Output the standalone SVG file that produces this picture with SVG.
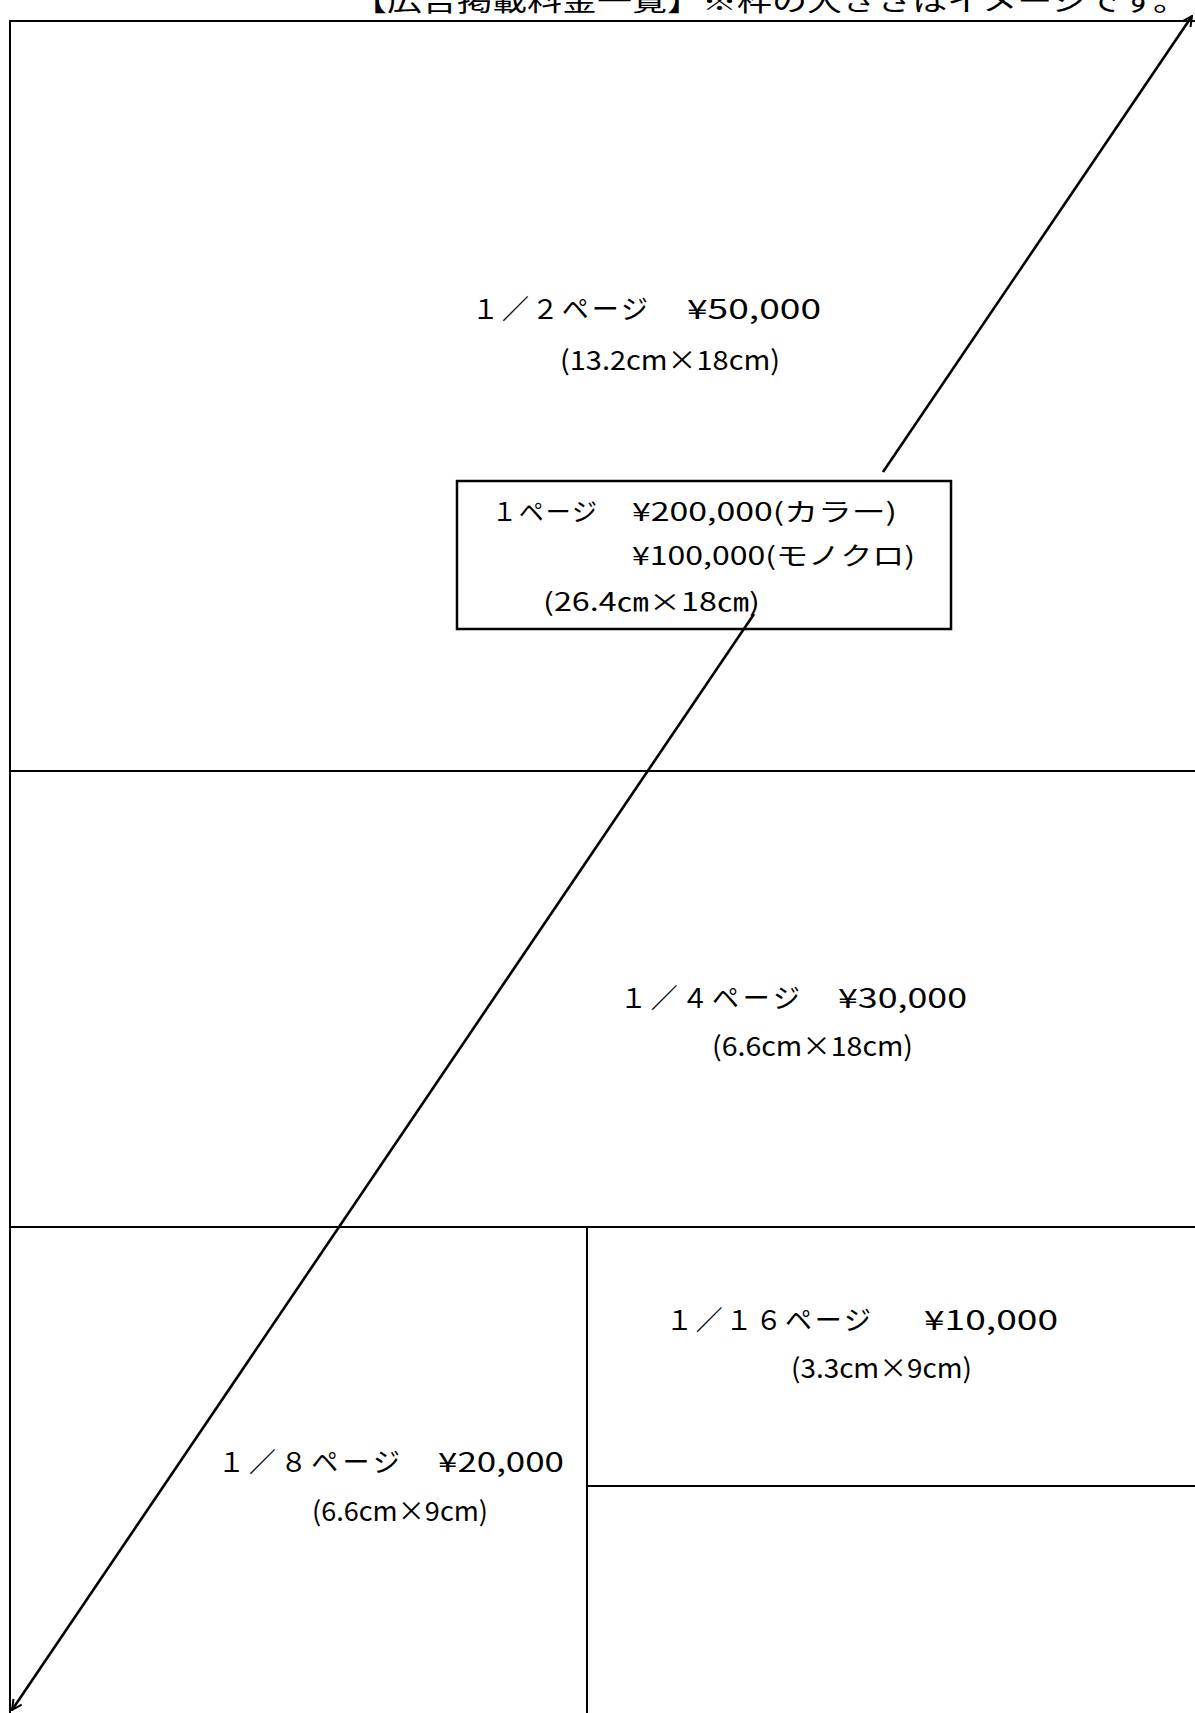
<svg xmlns="http://www.w3.org/2000/svg" width="1195" height="1713" viewBox="0 0 1195 1713">
<style>
.t{font-family:"Noto Sans CJK JP","Noto Sans",sans-serif;font-size:27px;fill:#000}
.n{font-family:"Noto Sans CJK JP","Noto Sans",sans-serif;font-size:27px;fill:#000}
.b{font-family:"Noto Sans CJK JP","Noto Sans",sans-serif;font-size:25px;fill:#000}
.frame{stroke:#000;stroke-width:2;fill:none}
.conn{stroke:#000;stroke-width:2.6;fill:none}
</style>
<defs>
<marker id="ah" viewBox="0 0 12 12" refX="11" refY="6" markerWidth="12" markerHeight="12" markerUnits="userSpaceOnUse" orient="auto">
<path d="M1,1 L11,6 L1,11" fill="none" stroke="#000" stroke-width="2"/>
</marker>
</defs>
<rect width="1195" height="1713" fill="#fff"/>
<text class="t" x="352" y="11" font-size="34" textLength="836" lengthAdjust="spacingAndGlyphs">【広告掲載料金一覧】※枠の大きさはイメージです。</text>
<g id="frame">
<line class="frame" x1="9" y1="21" x2="1195" y2="21"/>
<line class="frame" x1="10" y1="20" x2="10" y2="1713"/>
<line class="frame" x1="9" y1="771" x2="1195" y2="771"/>
<line class="frame" x1="9" y1="1227" x2="1195" y2="1227"/>
<line class="frame" x1="587" y1="1227" x2="587" y2="1713"/>
<line class="frame" x1="587" y1="1486" x2="1195" y2="1486"/>
</g>
<g id="node-half">
<text class="t" x="472" y="319" textLength="176" lengthAdjust="spacing">１／２ページ</text>
<text class="n" x="687" y="319" textLength="134" lengthAdjust="spacingAndGlyphs">¥50,000</text>
<text class="n" x="560" y="370" textLength="220" lengthAdjust="spacingAndGlyphs">(13.2cm×18cm)</text>
</g>
<g id="node-full">
<rect x="457" y="481" width="494" height="148" fill="#fff" stroke="#000" stroke-width="2.5"/>
<text class="b" x="492" y="521" textLength="105" lengthAdjust="spacing">１ページ</text>
<text class="b" x="632" y="521" textLength="265" lengthAdjust="spacingAndGlyphs">¥200,000(カラー)</text>
<text class="b" x="632" y="565" textLength="283" lengthAdjust="spacingAndGlyphs">¥100,000(モノクロ)</text>
<text class="b" x="543" y="611" textLength="217" lengthAdjust="spacingAndGlyphs">(26.4㎝×18㎝)</text>
</g>
<g id="node-quarter">
<text class="t" x="620" y="1008" textLength="180" lengthAdjust="spacing">１／４ページ</text>
<text class="n" x="838" y="1008" textLength="129" lengthAdjust="spacingAndGlyphs">¥30,000</text>
<text class="n" x="712" y="1056" textLength="201" lengthAdjust="spacingAndGlyphs">(6.6cm×18cm)</text>
</g>
<g id="node-eighth">
<text class="t" x="218" y="1472" textLength="182" lengthAdjust="spacing">１／８ページ</text>
<text class="n" x="438" y="1472" textLength="126" lengthAdjust="spacingAndGlyphs">¥20,000</text>
<text class="n" x="312" y="1521" textLength="176" lengthAdjust="spacingAndGlyphs">(6.6cm×9cm)</text>
</g>
<g id="node-sixteenth">
<text class="t" x="666" y="1330" textLength="205" lengthAdjust="spacing">１／１６ページ</text>
<text class="n" x="924" y="1330" textLength="134" lengthAdjust="spacingAndGlyphs">¥10,000</text>
<text class="n" x="791" y="1378" textLength="181" lengthAdjust="spacingAndGlyphs">(3.3cm×9cm)</text>
</g>
<g id="connectors">
<line class="conn" x1="883" y1="472" x2="1192" y2="16" marker-end="url(#ah)"/>
<line class="conn" x1="754" y1="614" x2="12" y2="1710" marker-end="url(#ah)"/>
</g>
</svg>
